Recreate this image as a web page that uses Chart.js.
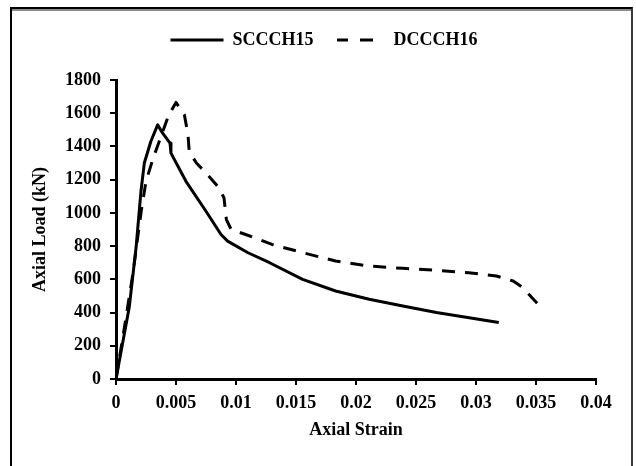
<!DOCTYPE html>
<html>
<head>
<meta charset="utf-8">
<script src="https://cdn.jsdelivr.net/npm/chart.js@4.4.1/dist/chart.umd.min.js"></script>
<style>
  html, body { margin: 0; padding: 0; background: #fff; }
  #wrap { position: relative; width: 636px; height: 466px; overflow: hidden; }
  #frame { position: absolute; left: 10px; top: 7px; width: 619px; height: 480px;
           border-top: 2px solid #000; border-left: 2px solid #000; border-right: 2px solid #3a3a3a;
           box-shadow: inset 0 2px 0 #8a8a8a; pointer-events: none; }
  canvas { position: absolute; left: 0; top: 0; }
</style>
</head>
<body>
<div id="wrap">
  <canvas id="c" width="636" height="466"></canvas>
  <div id="frame"></div>
</div>
<script>
// ---- data ----
const seriesNames = ['SCCCH15', 'DCCCH16'];

const scStrain = [0, 0.0011, 0.00167, 0.00208, 0.00236, 0.0029, 0.00347, 0.00389, 0.0045, 0.00458,
                  0.00583, 0.0075, 0.00875, 0.0093, 0.011, 0.0128, 0.01555, 0.0183, 0.0211, 0.0239, 0.0267, 0.0319];
const scLoad   = [0, 430, 790, 1130, 1300, 1430, 1530, 1480, 1420, 1360,
                  1190, 1010, 870, 830, 760, 700, 600, 530, 480, 440, 400, 340];

const dcStrain = [0, 0.0007, 0.0014, 0.0021, 0.0025, 0.0031, 0.0038, 0.0044, 0.005, 0.0057, 0.006, 0.0061,
                  0.0067, 0.0075, 0.0086, 0.009, 0.0092, 0.0096, 0.0108, 0.013, 0.0156, 0.0183, 0.0211,
                  0.0239, 0.0267, 0.0294, 0.0317, 0.0331, 0.0339, 0.0353];
const dcLoad   = [0, 310, 630, 1010, 1190, 1330, 1470, 1590, 1665, 1590, 1470, 1370,
                  1300, 1240, 1150, 1090, 960, 900, 870, 810, 760, 710, 680,
                  666, 654, 640, 620, 590, 550, 440];

const xMin = 0, xMax = 0.04, xStep = 0.005;
const yMin = 0, yMax = 1800, yStep = 200;
const xTitle = 'Axial Strain';
const yTitle = 'Axial Load (kN)';

const toPts = (xs, ys) => xs.map((x, i) => ({ x: x, y: ys[i] }));

const FONT = "'Liberation Serif', 'Times New Roman', serif";

new Chart(document.getElementById('c'), {
  type: 'line',
  data: {
    datasets: [
      { label: seriesNames[0], data: toPts(scStrain, scLoad), borderColor: '#000', backgroundColor: '#000',
        borderWidth: 3, pointRadius: 0, tension: 0, borderJoinStyle: 'round', borderCapStyle: 'butt', fill: false },
      { label: seriesNames[1], data: toPts(dcStrain, dcLoad), borderColor: '#000', backgroundColor: '#000',
        borderWidth: 3, pointRadius: 0, tension: 0, borderDash: [13, 10],
        borderJoinStyle: 'round', fill: false }
    ]
  },
  options: {
    responsive: false,
    animation: false,
    devicePixelRatio: 1,
    layout: { padding: { top: 13, right: 0, bottom: 0, left: 12 } },
    plugins: {
      legend: {
        display: true,
        position: 'top',
        labels: {
          usePointStyle: true, pointStyle: 'line', pointStyleWidth: 53,
          boxWidth: 53, boxHeight: 2, padding: 18, color: '#000',
          font: { family: FONT, size: 18, weight: 'bold' },
          generateLabels: chart => {
            const items = Chart.defaults.plugins.legend.labels.generateLabels(chart);
            items.forEach((it, i) => {
              it.lineWidth = 3;
              it.lineDash = i === 1 ? [0, 5.5, 11, 12, 13, 100] : [];
              it.lineDashOffset = 0;
            });
            return items;
          }
        }
      },
      tooltip: { enabled: false }
    },
    scales: {
      x: {
        type: 'linear', position: 'bottom', min: xMin, max: xMax,
        border: { display: true, color: '#000', width: 3 },
        grid: { display: true, drawOnChartArea: false, drawTicks: true, tickLength: 6, color: '#000', lineWidth: 2 },
        ticks: { stepSize: xStep, padding: 8, color: '#000', maxRotation: 0, autoSkip: false,
                 font: { family: FONT, size: 18, weight: 'bold' },
                 callback: v => String(Number(v.toFixed(4))) },
        title: { display: true, text: xTitle, color: '#000', padding: { top: 0, bottom: 25 },
                 font: { family: FONT, size: 18, weight: 'bold' } },
        afterFit: s => { s.height = 87; }
      },
      xTop: {
        type: 'linear', position: 'top', display: true,
        grid: { display: false }, border: { display: false }, ticks: { display: false },
        afterFit: s => { s.height = 21; }
      },
      yRight: {
        type: 'linear', position: 'right', display: true,
        grid: { display: false }, border: { display: false }, ticks: { display: false },
        afterFit: s => { s.width = 40; }
      },
      y: {
        type: 'linear', position: 'left', min: yMin, max: yMax,
        border: { display: true, color: '#000', width: 3 },
        grid: { display: true, drawOnChartArea: false, drawTicks: true, tickLength: 6, color: '#000', lineWidth: 2 },
        ticks: { stepSize: yStep, padding: 9, color: '#000', autoSkip: false,
                 font: { family: FONT, size: 18, weight: 'bold' },
                 callback: v => String(v) },
        title: { display: true, text: yTitle, color: '#000', padding: { top: 18, bottom: 0 },
                 font: { family: FONT, size: 18, weight: 'bold' } },
        afterFit: s => { s.width = 104; }
      }
    }
  }
});
</script>
</body>
</html>
